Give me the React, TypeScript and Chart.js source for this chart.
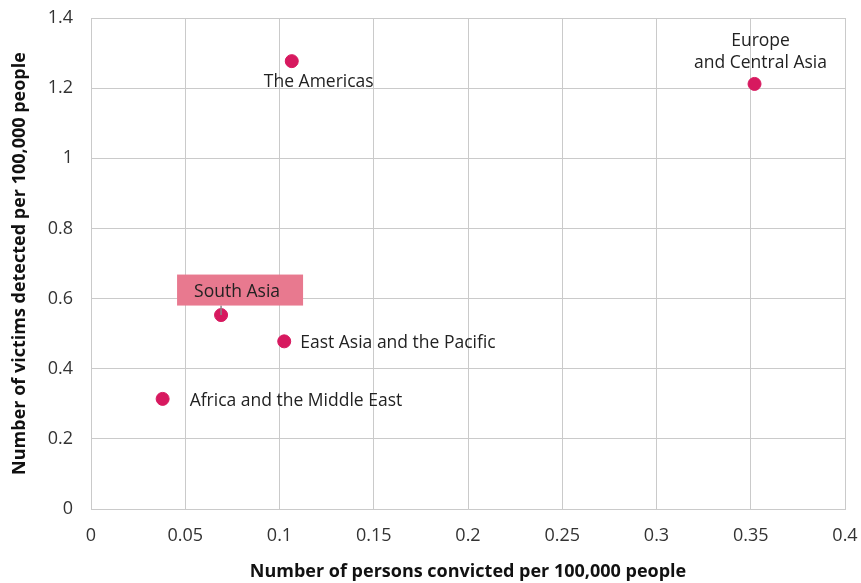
import React, { useEffect, useRef } from "react";
import { Chart, registerables } from "chart.js";

Chart.register(...registerables);

const regions = [
  "Africa and the Middle East",
  "South Asia",
  "East Asia and the Pacific",
  "The Americas",
  "Europe and Central Asia",
];
const convicted = [0.038, 0.069, 0.1025, 0.1065, 0.352];
const victims = [0.314, 0.553, 0.478, 1.277, 1.212];
const xTitle = "Number of persons convicted per 100,000 people";
const yTitle = "Number of victims detected per 100,000 people";

const FONT = "'Open Sans', 'Noto Sans', sans-serif";
const PINK = "#D7195F";

const labelPlugin = {
  id: "regionLabels",
  afterDatasetsDraw(chart: any) {
    const ctx = chart.ctx;
    const meta = chart.getDatasetMeta(0);
    ctx.save();
    ctx.font = `17.5px ${FONT}`;
    ctx.fillStyle = "#222";
    ctx.textBaseline = "middle";
    meta.data.forEach((pt: any, i: number) => {
      const name = regions[i];
      const x = pt.x;
      const y = pt.y + 2;
      if (name === "The Americas") {
        ctx.textAlign = "center";
        ctx.fillText(name, x + 27, y + 19);
      } else if (name === "Europe and Central Asia") {
        ctx.textAlign = "center";
        ctx.fillText("Europe", x + 6, y - 45);
        ctx.fillText("and Central Asia", x + 6, y - 23);
      } else if (name === "South Asia") {
        const bw = 126, bh = 31;
        const cx = x + 19, cy = pt.y - 25;
        ctx.strokeStyle = "#888";
        ctx.lineWidth = 1.5;
        ctx.beginPath();
        ctx.moveTo(x, pt.y);
        ctx.lineTo(x, cy + bh / 2);
        ctx.stroke();
        ctx.fillStyle = "#E8798F";
        ctx.fillRect(cx - bw / 2, cy - bh / 2, bw, bh);
        ctx.fillStyle = "#222";
        ctx.textAlign = "center";
        ctx.fillText(name, cx - 3, cy + 2);
      } else if (name === "East Asia and the Pacific") {
        ctx.textAlign = "left";
        ctx.fillText(name, x + 16, y);
      } else {
        ctx.textAlign = "left";
        ctx.fillText(name, x + 27, y);
      }
    });
    ctx.restore();
  },
};

export default function App() {
  const ref = useRef<HTMLCanvasElement>(null);
  useEffect(() => {
    const chart = new Chart(ref.current as HTMLCanvasElement, {
      type: "scatter",
      data: {
        datasets: [
          {
            data: convicted.map((c, i) => ({ x: c, y: victims[i] })),
            backgroundColor: PINK,
            borderColor: PINK,
            pointRadius: 6.5,
            pointHoverRadius: 6.5,
          },
        ],
      },
      options: {
        animation: false,
        responsive: true,
        maintainAspectRatio: false,
        layout: { padding: { top: 18, right: 16, left: 0, bottom: 0 } },
        plugins: { legend: { display: false }, tooltip: { enabled: false } },
        scales: {
          x: {
            type: "linear",
            min: 0,
            max: 0.4,
            ticks: {
              stepSize: 0.05,
              padding: 16,
              color: "#333",
              font: { family: FONT, size: 18 },
              callback: (v: any) => String(Math.round(v * 100) / 100),
            },
            grid: { color: "#CACACA", drawTicks: false, lineWidth: 1 },
            border: { color: "#CACACA" },
            title: {
              display: true,
              text: xTitle,
              color: "#111",
              font: { family: FONT, size: 18, weight: "bold" },
              padding: { top: 0, bottom: 0 },
            },
            afterFit: (s: any) => {
              s.height = 74;
              s.paddingLeft = 0;
              s.paddingRight = 0;
            },
          },
          y: {
            type: "linear",
            min: 0,
            max: 1.4,
            ticks: {
              stepSize: 0.2,
              padding: 18,
              color: "#333",
              font: { family: FONT, size: 18 },
              callback: (v: any) => String(Math.round(v * 10) / 10),
            },
            grid: { color: "#CACACA", drawTicks: false, lineWidth: 1 },
            border: { color: "#CACACA" },
            title: {
              display: true,
              text: yTitle,
              color: "#111",
              font: { family: FONT, size: 18, weight: "bold" },
              padding: { top: 9, bottom: 0 },
            },
            afterFit: (s: any) => {
              s.width = 91;
              s.paddingTop = 0;
              s.paddingBottom = 0;
            },
          },
        },
      },
      plugins: [labelPlugin],
    });
    return () => chart.destroy();
  }, []);
  return (
    <div style={{ position: "fixed", left: 0, top: 0, width: 861, height: 583, background: "#fff" }}>
      <canvas ref={ref} />
    </div>
  );
}
